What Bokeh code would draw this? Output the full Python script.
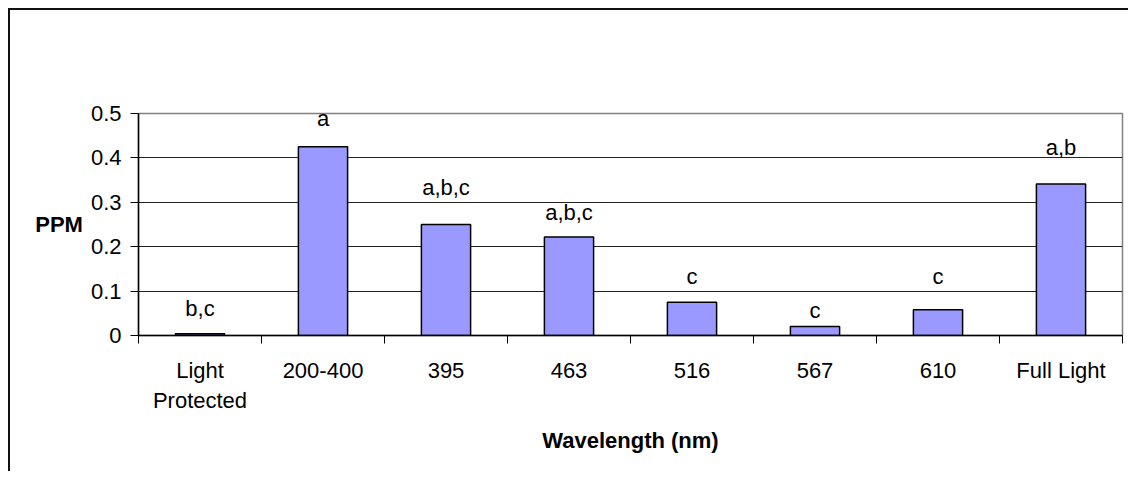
from bokeh.plotting import figure
from bokeh.models import FixedTicker, Range1d, Label, ColumnDataSource
from bokeh.core.properties import value
from bokeh.embed import file_html
from bokeh.resources import INLINE

categories = ["Light\nProtected", "200-400", "395", "463", "516", "567", "610", "Full Light"]
ppm = [0.004, 0.425, 0.25, 0.222, 0.075, 0.02, 0.058, 0.341]
letters = ["b,c", "a", "a,b,c", "a,b,c", "c", "c", "c", "a,b"]
letter_y = [0.061, 0.488, 0.333, 0.277, 0.133, 0.056, 0.133, 0.423]
y_ticks = [0, 0.1, 0.2, 0.3, 0.4, 0.5]

FONT = "Liberation Sans"
FS = "22px"

xs = [i + 0.5 for i in range(len(categories))]
src = ColumnDataSource(dict(x=xs, top=ppm, lab=letters, ly=letter_y))

p = figure(width=1120, height=463, output_backend="svg", toolbar_location=None,
           x_range=Range1d(0, len(categories)), y_range=Range1d(0, 0.5),
           min_border_left=128, min_border_right=8, min_border_top=103,
           min_border_bottom=138)
p.styles = {"border-top": "2px solid #111", "border-left": "2px solid #111",
            "margin-left": "8px", "margin-top": "8px"}

p.vbar(x="x", top="top", width=0.4, bottom=0, source=src,
       fill_color="#9999FF", line_color="black", line_width=1.5)
p.text(x="x", y="ly", text="lab", source=src, text_align="center",
       text_baseline="middle", text_font=value(FONT), text_font_size=FS,
       text_color="black")

p.outline_line_color = "#808080"
p.outline_line_width = 1.5
p.xgrid.visible = False
p.ygrid.ticker = FixedTicker(ticks=y_ticks[1:-1])
p.ygrid.grid_line_color = "#222222"
p.ygrid.grid_line_width = 1

xa = p.xaxis[0]
xa.ticker = FixedTicker(ticks=xs, minor_ticks=list(range(len(categories) + 1)))
xa.major_label_overrides = {x: c for x, c in zip(xs, categories)}
xa.major_tick_in = 0
xa.major_tick_out = 0
xa.minor_tick_in = 0
xa.minor_tick_out = 8
xa.minor_tick_line_color = "black"
xa.axis_line_color = "black"
xa.axis_line_width = 1.5
xa.major_label_text_font = FONT
xa.major_label_text_font_size = FS
xa.major_label_text_color = "black"
xa.major_label_standoff = 14
xa.axis_label = "Wavelength (nm)"
xa.axis_label_text_font = FONT
xa.axis_label_text_font_size = FS
xa.axis_label_text_font_style = "bold"
xa.axis_label_text_color = "black"
xa.axis_label_standoff = 12

ya = p.yaxis[0]
ya.ticker = FixedTicker(ticks=y_ticks)
ya.major_label_overrides = {0: "0", 0.1: "0.1", 0.2: "0.2", 0.3: "0.3", 0.4: "0.4", 0.5: "0.5"}
ya.major_tick_in = 0
ya.major_tick_out = 8
ya.minor_tick_line_color = None
ya.major_tick_line_color = "black"
ya.axis_line_color = "black"
ya.axis_line_width = 1.5
ya.major_label_text_font = FONT
ya.major_label_text_font_size = FS
ya.major_label_text_color = "black"
ya.major_label_standoff = 9
ya.axis_label = "PPM"
ya.axis_label_text_font = FONT
ya.axis_label_text_font_size = FS
ya.axis_label_text_font_style = "bold"
ya.axis_label_text_color = "black"
ya.axis_label_standoff = 5
try:
    ya.axis_label_orientation = "horizontal"
except Exception:
    ya.axis_label = None
    p.add_layout(Label(x=-0.65, y=0.252, text="PPM", text_align="center",
                       text_baseline="middle", text_font=FONT, text_font_size=FS,
                       text_font_style="bold", text_color="black"))

open("out.html", "w").write(file_html(p, INLINE))
